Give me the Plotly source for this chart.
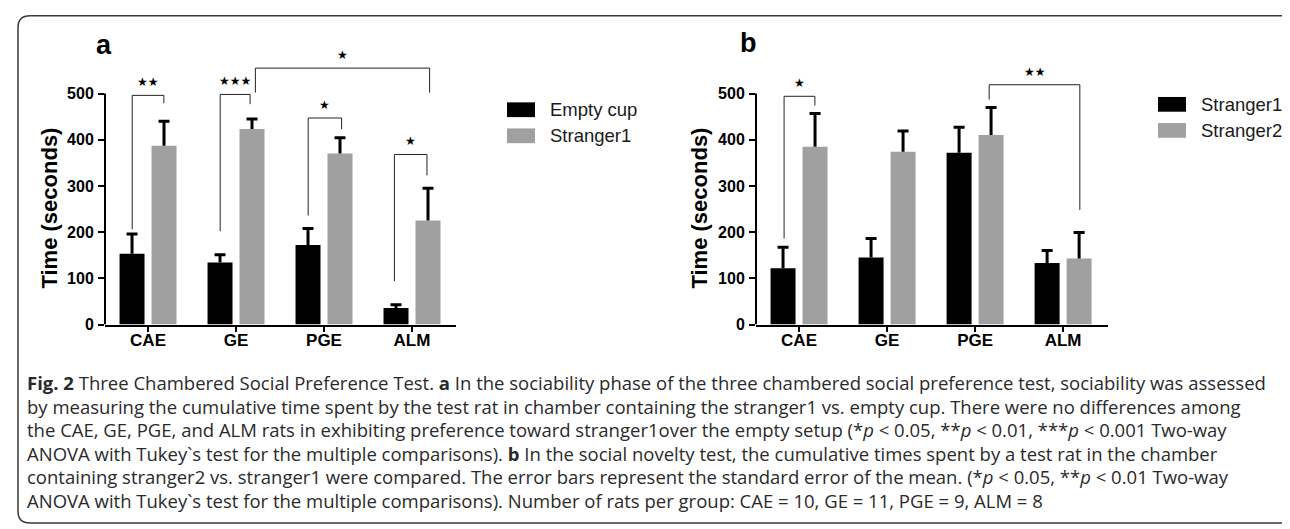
import plotly.graph_objects as go

W, H = 1290, 529

# ---------------- data ----------------
categories = ["CAE", "GE", "PGE", "ALM"]

# panel a
a_series_names = ["Empty cup", "Stranger1"]
a_empty_mean = [153, 134, 172, 36]
a_empty_sem = [43, 17, 36, 7]
a_str1_mean = [387, 423, 370, 225]
a_str1_sem = [53, 22, 34, 70]

# panel b
b_series_names = ["Stranger1", "Stranger2"]
b_str1_mean = [122, 145, 372, 133]
b_str1_sem = [45, 41, 55, 27]
b_str2_mean = [385, 374, 410, 143]
b_str2_sem = [72, 45, 60, 56]

y_tick_vals = [0, 100, 200, 300, 400, 500]

# significance brackets (x in category index units, y in seconds)
a_brk_x0 = [-0.18, 0.82, 1.22, 1.82, 2.80]
a_brk_x1 = [0.18, 1.16, 3.20, 2.20, 3.17]
a_brk_top = [496, 498, 555, 447, 368]
a_brk_left = [206, 202, 502, 236, 94]
a_brk_right = [479, 477, 502, 423, 323]
a_brk_label = ["★★", "★★★", "★", "★", "★"]

b_brk_x0 = [-0.17, 2.16]
b_brk_x1 = [0.18, 3.19]
b_brk_top = [494, 519]
b_brk_left = [186, 487]
b_brk_right = [474, 248]
b_brk_label = ["★", "★★"]

caption_lines = [
    "<b>Fig. 2</b> Three Chambered Social Preference Test. <b>a</b> In the sociability phase of the three chambered social preference test, sociability was assessed",
    "by measuring the cumulative time spent by the test rat in chamber containing the stranger1 vs. empty cup. There were no differences among",
    "the CAE, GE, PGE, and ALM rats in exhibiting preference toward stranger1over the empty setup (*<i>p</i> < 0.05, **<i>p</i> < 0.01, ***<i>p</i> < 0.001 Two-way",
    "ANOVA with Tukey`s test for the multiple comparisons). <b>b</b> In the social novelty test, the cumulative times spent by a test rat in the chamber",
    "containing stranger2 vs. stranger1 were compared. The error bars represent the standard error of the mean. (*<i>p</i> < 0.05, **<i>p</i> < 0.01 Two-way",
    "ANOVA with Tukey`s test for the multiple comparisons). Number of rats per group: CAE = 10, GE = 11, PGE = 9, ALM = 8",
]

# ---------------- style ----------------
BLACK = "#000000"
GRAY = "#a0a0a0"
ARIAL = "Liberation Sans, Arial, sans-serif"
CAP_FONT = "Open Sans, Noto Sans, sans-serif"


def px(x):
    return x / W


def py(y):
    return 1 - y / H


fig = go.Figure()


def add_bar_with_error(means, sems, color, name, xa, ya, group):
    # the bar with an upward error stem (no cap at the bar top)
    fig.add_trace(go.Bar(x=categories, y=means, name=name, marker_color=color,
                         marker_line_width=0, marker_cornerradius=3, offsetgroup=group,
                         error_y=dict(type="data", symmetric=False, array=sems, arrayminus=[0] * len(sems),
                                      color=BLACK, thickness=3, width=0),
                         xaxis=xa, yaxis=ya, showlegend=False))
    # the cap only, at mean + sem, on an invisible bar sharing the same slot
    tops = [m + s for m, s in zip(means, sems)]
    fig.add_trace(go.Bar(x=categories, y=tops, marker_color="rgba(0,0,0,0)", marker_line_width=0,
                         offsetgroup=group, hoverinfo="skip",
                         error_y=dict(type="data", symmetric=False, array=[0] * len(sems),
                                      arrayminus=[0] * len(sems), color=BLACK, thickness=3, width=5.5),
                         xaxis=xa, yaxis=ya, showlegend=False))


add_bar_with_error(a_empty_mean, a_empty_sem, BLACK, a_series_names[0], "x", "y", "a1")
add_bar_with_error(a_str1_mean, a_str1_sem, GRAY, a_series_names[1], "x", "y", "a2")
add_bar_with_error(b_str1_mean, b_str1_sem, BLACK, b_series_names[0], "x2", "y2", "b1")
add_bar_with_error(b_str2_mean, b_str2_sem, GRAY, b_series_names[1], "x2", "y2", "b2")

ydom = [py(322), py(40)]
xaxis_common = dict(type="category", showline=True, linewidth=2, linecolor=BLACK,
                    ticks="outside", ticklen=5, tickwidth=2, tickcolor=BLACK, ticklabelstandoff=-6,
                    tickfont=dict(family=ARIAL, size=17, color=BLACK, weight="bold"),
                    showgrid=False, zeroline=False, fixedrange=True)
yaxis_common = dict(range=[0, 600], tickvals=y_tick_vals, showline=False,
                    ticks="outside", ticklen=6, tickwidth=2, tickcolor=BLACK, ticklabelstandoff=1,
                    tickfont=dict(family=ARIAL, size=16, color=BLACK, weight="bold"),
                    showgrid=False, zeroline=False, fixedrange=True, domain=ydom)

fig.update_layout(
    width=W, height=H, margin=dict(l=0, r=0, t=0, b=0),
    paper_bgcolor="white", plot_bgcolor="white",
    barmode="group", bargap=0.273, bargroupgap=0.219,
    showlegend=False,
    xaxis=dict(domain=[px(97), px(448)], range=[-0.489, 3.5], anchor="y", **xaxis_common),
    yaxis=dict(anchor="x", **yaxis_common),
    xaxis2=dict(domain=[px(748), px(1100)], range=[-0.489, 3.51], anchor="y2", **xaxis_common),
    yaxis2=dict(anchor="x2", **yaxis_common),
)

shapes = []
annotations = []

# y-axis lines stopping at 500
for xr, yr in (("x", "y"), ("x2", "y2")):
    shapes.append(dict(type="line", xref=xr + " domain", yref=yr, x0=0, x1=0, y0=0, y1=500,
                       line=dict(color=BLACK, width=2)))


# brackets
def add_brackets(xr, yr, x0s, x1s, tops, lefts, rights, labels):
    for x0, x1, t, l, r, lab in zip(x0s, x1s, tops, lefts, rights, labels):
        ln = dict(color="#222222", width=1)
        shapes.append(dict(type="line", xref=xr, yref=yr, x0=x0, x1=x1, y0=t, y1=t, line=ln))
        shapes.append(dict(type="line", xref=xr, yref=yr, x0=x0, x1=x0, y0=l, y1=t, line=ln))
        shapes.append(dict(type="line", xref=xr, yref=yr, x0=x1, x1=x1, y0=r, y1=t, line=ln))
        annotations.append(dict(xref=xr, yref=yr, x=(x0 + x1) / 2, y=t, text=lab, showarrow=False,
                                yanchor="bottom", yshift=4,
                                font=dict(family="DejaVu Sans", size=12, color=BLACK)))


add_brackets("x", "y", a_brk_x0, a_brk_x1, a_brk_top, a_brk_left, a_brk_right, a_brk_label)
add_brackets("x2", "y2", b_brk_x0, b_brk_x1, b_brk_top, b_brk_left, b_brk_right, b_brk_label)


# manual legends
def add_legend(x_sw, y_centers, names, colors):
    for yc, nm, col in zip(y_centers, names, colors):
        shapes.append(dict(type="rect", xref="paper", yref="paper",
                           x0=px(x_sw), x1=px(x_sw + 28), y0=py(yc - 7.5), y1=py(yc + 7.5),
                           fillcolor=col, line=dict(width=0)))
        annotations.append(dict(xref="paper", yref="paper", x=px(x_sw + 41), y=py(yc), text=nm,
                                showarrow=False, xanchor="left", yanchor="middle",
                                font=dict(family=ARIAL, size=18.5, color="#1a1a1a")))


add_legend(499, [103.5, 130], a_series_names, [BLACK, GRAY])
add_legend(1150, [98, 124.5], b_series_names, [BLACK, GRAY])

# y titles
for xc in (42, 692):
    annotations.append(dict(xref="paper", yref="paper", x=px(xc), y=py(204), text="Time (seconds)",
                            textangle=-90, showarrow=False, xanchor="center", yanchor="middle",
                            font=dict(family=ARIAL, size=22, color=BLACK, weight="bold")))

# panel letters
annotations.append(dict(xref="paper", yref="paper", x=px(96), y=py(38), text="<b>a</b>", showarrow=False,
                        xanchor="center", yanchor="middle", font=dict(family=ARIAL, size=27, color=BLACK)))
annotations.append(dict(xref="paper", yref="paper", x=px(740), y=py(36), text="<b>b</b>", showarrow=False,
                        xanchor="center", yanchor="middle", font=dict(family=ARIAL, size=27, color=BLACK)))

# caption
cap_y = [381, 405, 429, 453, 477, 501]
for yc, line in zip(cap_y, caption_lines):
    annotations.append(dict(xref="paper", yref="paper", x=px(17), y=py(yc), text=line, showarrow=False,
                            xanchor="left", yanchor="middle",
                            font=dict(family=CAP_FONT, size=18.5, color="#2a2a2a")))

# rounded border
x0b, y0b, x1b, y1b, r = px(10), py(8), px(1288), py(524), 12
rx, ry = r / W, r / H
path = (f"M {x0b + rx},{y0b} L {x1b - rx},{y0b} Q {x1b},{y0b} {x1b},{y0b - ry} "
        f"L {x1b},{y1b + ry} Q {x1b},{y1b} {x1b - rx},{y1b} L {x0b + rx},{y1b} "
        f"Q {x0b},{y1b} {x0b},{y1b + ry} L {x0b},{y0b - ry} Q {x0b},{y0b} {x0b + rx},{y0b} Z")
shapes.append(dict(type="path", xref="paper", yref="paper", path=path, line=dict(color="#3a3a3a", width=1.5)))

fig.update_layout(shapes=shapes, annotations=annotations)
fig.write_html("out.html")
